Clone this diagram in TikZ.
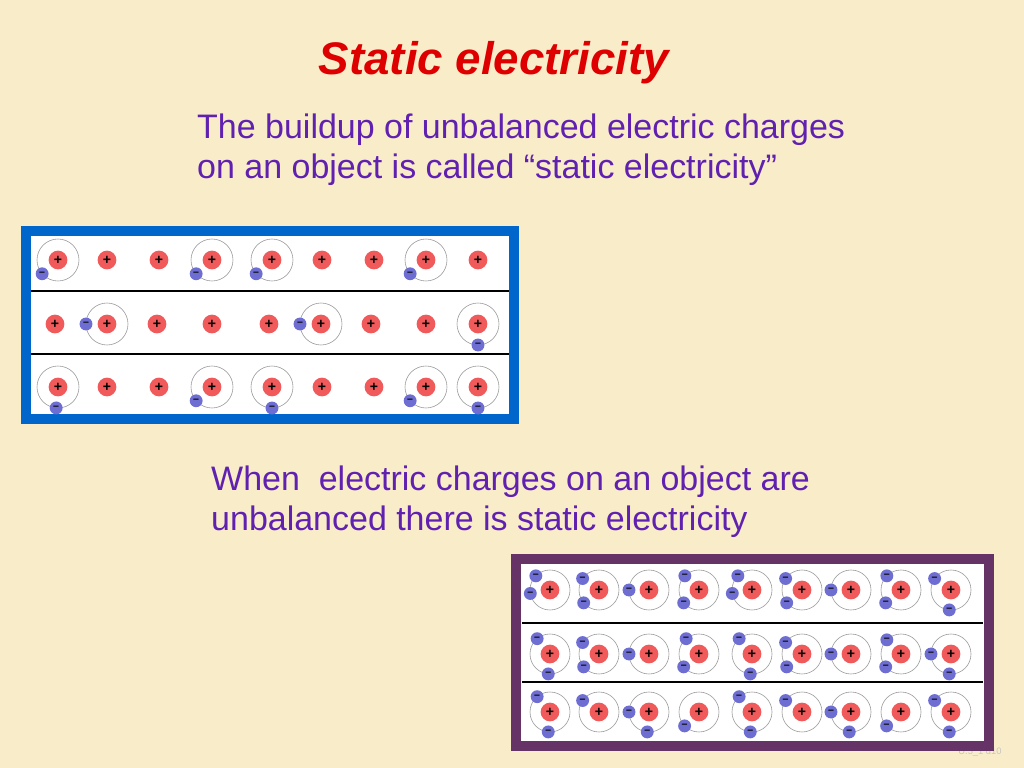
\documentclass[tikz,border=0pt]{standalone}
\usepackage{fontspec}
\setmainfont{Liberation Sans}
\definecolor{paper}{RGB}{249,237,201}
\definecolor{slidered}{RGB}{222,0,0}
\definecolor{slidetext}{RGB}{96,32,176}
\definecolor{boxblue}{RGB}{0,102,204}
\definecolor{boxpurple}{RGB}{102,51,102}
\definecolor{nucred}{RGB}{240,90,90}
\definecolor{elblue}{RGB}{110,110,210}
\tikzset{
    nucleus/.style={circle, fill=nucred, inner sep=0pt, minimum size=16, font=\bfseries\large},
    electron/.style={circle, fill=elblue, inner sep=0pt, minimum size=11, font=\bfseries\small},
    orbit/.style={draw=gray!80, line width=0.5pt},
    body/.style={font=\fontsize{29}{34}\selectfont, text=slidetext, align=left, anchor=north west, inner sep=0pt},
}
% one atom: x, y, orbit radius (0 = bare nucleus), electron angles (a macro)
\newcommand{\atomat}[4]{%
  \node[nucleus] (n#1-#2) at (#1,#2) {+};
  \ifdim #3pt>0pt
    \draw[orbit] (#1,#2) circle (#3);
    \foreach \ang in #4 {
      \node[electron] at ({#1+#3*cos(\ang)},{#2-#3*sin(\ang)}) {–};
    }
  \fi
}
\begin{document}
\begin{tikzpicture}[x=0.03cm, y=-0.03cm]
\fill[paper] (0,0) rectangle (1024,768);
\useasboundingbox (0,0) rectangle (1024,768);

% title and texts
\node[font=\fontsize{39}{44}\selectfont\bfseries\itshape, text=slidered] (title) at (494,63) {Static electricity};
\node[body] (buildup) at (197,114) {The buildup of unbalanced electric charges\\on an object is called “static electricity”};
\node[body] (unbal) at (211,466) {When\ \ electric charges on an object are\\unbalanced there is static electricity};
\node[font=\footnotesize, text=gray!45] (tag) at (980,752) {U.5\_1 d10};

% balanced object
\draw[boxblue, line width=9pt, fill=white] (26,231) rectangle (514,419);
\draw[line width=1.2pt] (31,291) -- (509,291);
\draw[line width=1.2pt] (31,354) -- (509,354);
\foreach \x/\r/\a in {58/21/221,107/0/0,159/0/0,212/21/221,272/21/221,322/0/0,374/0/0,426/21/221,478/0/0}
  {\atomat{\x}{260}{\r}{\a}}
\foreach \x/\r/\a in {55/0/0,107/21/180,157/0/0,212/0/0,269/0/0,321/21/180,371/0/0,426/0/0,478/21/270}
  {\atomat{\x}{324}{\r}{\a}}
\foreach \x/\r/\a in {58/21/265,107/0/0,159/0/0,212/21/221,272/21/270,322/0/0,374/0/0,426/21/221,478/21/270}
  {\atomat{\x}{387}{\r}{\a}}

% unbalanced object
\draw[boxpurple, line width=9pt, fill=white] (516,559) rectangle (989,746);
\draw[line width=1.2pt] (522,623) -- (983,623);
\draw[line width=1.2pt] (522,682) -- (983,682);
\foreach \x/\a in {550/{135,190},599/{145,220},649/{180},699/{135,220},752/{135,190},802/{145,220},851/{180},901/{135,220},951/{145,265}}
  {\atomat{\x}{590}{20}{\a}}
\foreach \x/\a in {550/{130,265},599/{145,220},649/{180},699/{130,220},752/{130,265},802/{145,220},851/{180},901/{135,220},951/{180,265}}
  {\atomat{\x}{654}{20}{\a}}
\foreach \x/\a in {550/{130,265},599/{145},649/{180,265},699/{224},752/{130,265},802/{145},851/{180,265},901/{224},951/{145,265}}
  {\atomat{\x}{712}{20}{\a}}
\end{tikzpicture}
\end{document}
